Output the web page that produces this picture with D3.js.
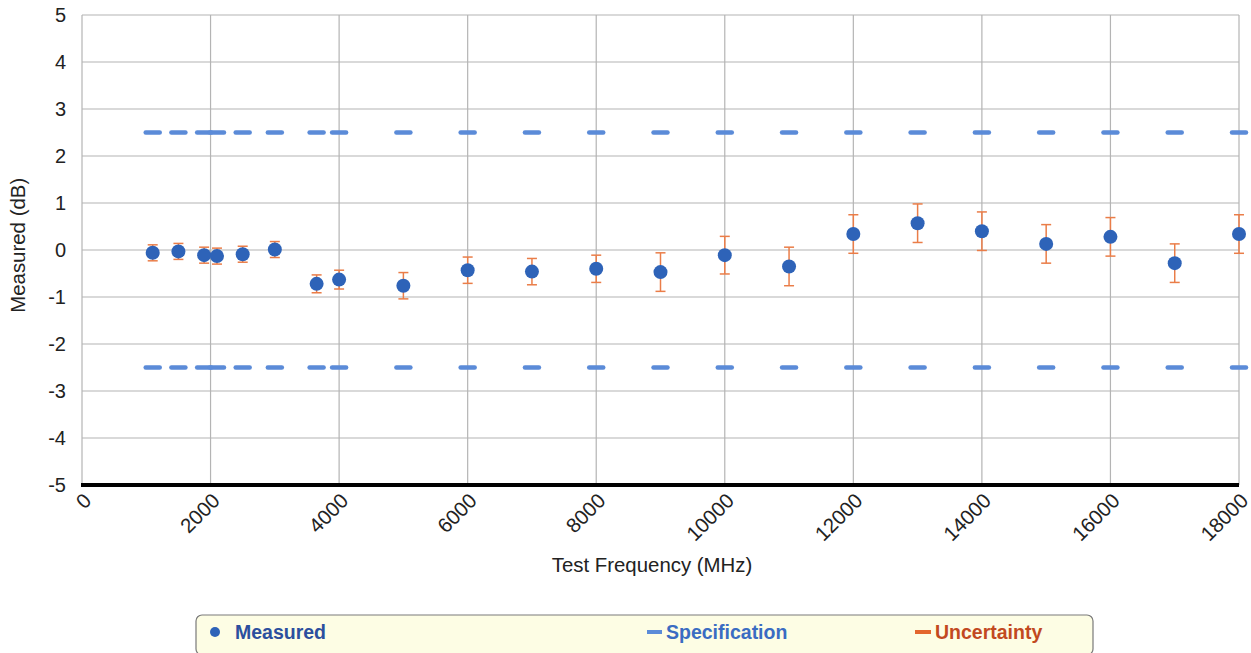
<html>
<head>
<meta charset="utf-8">
<style>
body{margin:0;background:#fff;}
text{font-family:"Liberation Sans",Arial,sans-serif;}
</style>
</head>
<body>
<svg id="graph" width="1251" height="653"></svg>
<script src="https://d3js.org/d3.v7.min.js"></script>
<script>
// test points (MHz), measured deviation (dB), expanded uncertainty (dB)
var freqs = [1100,1500,1900,2100,2500,3000,3650,4000,5000,6000,7000,8000,9000,10000,11000,12000,13000,14000,15000,16000,17000,18000];
var measured = [-0.06,-0.03,-0.11,-0.13,-0.09,0.01,-0.72,-0.63,-0.76,-0.43,-0.46,-0.40,-0.47,-0.11,-0.35,0.34,0.57,0.40,0.13,0.28,-0.28,0.34];
var uncert = [0.17,0.17,0.17,0.17,0.17,0.17,0.19,0.2,0.28,0.28,0.28,0.29,0.41,0.4,0.41,0.41,0.41,0.41,0.41,0.41,0.41,0.41];
var specUpper = 2.5, specLower = -2.5;
var xTicks = [0,2000,4000,6000,8000,10000,12000,14000,16000,18000];
var yTicks = [-5,-4,-3,-2,-1,0,1,2,3,4,5];

var svg = d3.select('#graph');
var pLeft = 82, pRight = 1239, pTop = 15, pBottom = 485;

var x = d3.scaleLinear().domain([0,18000]).range([pLeft,pRight]);
var y = d3.scaleLinear().domain([-5,5]).range([pBottom,pTop]);

// grid
svg.append('g').selectAll('line').data(yTicks).enter().append('line')
	.attr('x1',pLeft).attr('x2',pRight)
	.attr('y1',function(d){return y(d);}).attr('y2',function(d){return y(d);})
	.attr('stroke','#b4b4b4').attr('stroke-width',1.2);
svg.append('g').selectAll('line').data(xTicks).enter().append('line')
	.attr('x1',function(d){return x(d);}).attr('x2',function(d){return x(d);})
	.attr('y1',pTop).attr('y2',pBottom)
	.attr('stroke','#b4b4b4').attr('stroke-width',1.2);

// axes
var yAxis = svg.append('g').attr('transform','translate('+pLeft+',0)')
	.call(d3.axisLeft(y).tickValues(yTicks).tickFormat(function(d){return String(d);}).tickSize(0).tickPadding(16));
yAxis.select('.domain').remove();
yAxis.selectAll('text').style('font-size','20px').style('fill','#222');

var xAxis = svg.append('g').attr('transform','translate(0,'+pBottom+')')
	.call(d3.axisBottom(x).tickValues(xTicks).tickFormat(function(d){return String(d);}).tickSize(0));
xAxis.select('.domain').remove();
xAxis.selectAll('text')
	.style('font-size','20.5px').style('fill','#222')
	.attr('text-anchor','end')
	.attr('dy',0).attr('y',0)
	.attr('transform','translate(10,17) rotate(-45)');

svg.append('line')
	.attr('x1',pLeft-1).attr('x2',pRight)
	.attr('y1',pBottom).attr('y2',pBottom)
	.attr('stroke','#000').attr('stroke-width',4);

// axis titles
svg.append('text')
	.attr('transform','translate(25,'+y(0.1)+') rotate(-90)')
	.attr('text-anchor','middle')
	.attr('textLength',135).attr('lengthAdjust','spacingAndGlyphs')
	.style('font-size','20px').style('fill','#222')
	.text('Measured (dB)');
svg.append('text')
	.attr('x',652).attr('y',572)
	.attr('text-anchor','middle')
	.style('font-size','20.4px').style('fill','#222')
	.text('Test Frequency (MHz)');

// specification markers
var specColor = '#5b8bd8';
[specUpper,specLower].forEach(function(s){
	svg.append('g').selectAll('line').data(freqs).enter().append('line')
		.attr('x1',function(d){return x(d)-7;}).attr('x2',function(d){return x(d)+7;})
		.attr('y1',y(s)).attr('y2',y(s))
		.attr('stroke',specColor).attr('stroke-width',4.5).attr('stroke-linecap','round');
});

// error bars
var errColor = '#ea7d48';
var eb = svg.append('g').selectAll('g').data(freqs).enter().append('g');
eb.append('line')
	.attr('x1',function(d){return x(d);}).attr('x2',function(d){return x(d);})
	.attr('y1',function(d,i){return y(measured[i]+uncert[i]);})
	.attr('y2',function(d,i){return y(measured[i]-uncert[i]);})
	.attr('stroke',errColor).attr('stroke-width',1.5);
[1,-1].forEach(function(sg){
	eb.append('line')
		.attr('x1',function(d){return x(d)-5;}).attr('x2',function(d){return x(d)+5;})
		.attr('y1',function(d,i){return y(measured[i]+sg*uncert[i]);})
		.attr('y2',function(d,i){return y(measured[i]+sg*uncert[i]);})
		.attr('stroke',errColor).attr('stroke-width',1.5);
});

// measured points
svg.append('g').selectAll('circle').data(freqs).enter().append('circle')
	.attr('cx',function(d){return x(d);})
	.attr('cy',function(d,i){return y(measured[i]);})
	.attr('r',7)
	.attr('fill','#2e63b8');

// legend
var lg = svg.append('g');
lg.append('rect')
	.attr('x',196).attr('y',615).attr('width',897).attr('height',40).attr('rx',6)
	.attr('fill','#fdfde4').attr('stroke','#7a7a7a').attr('stroke-width',1.2);
lg.append('circle').attr('cx',215).attr('cy',632).attr('r',5).attr('fill','#2e63b8');
lg.append('text').attr('x',235).attr('y',639)
	.style('font-size','19.5px').style('font-weight','bold').style('fill','#2b4f9e')
	.text('Measured');
lg.append('line').attr('x1',647).attr('x2',662).attr('y1',632).attr('y2',632)
	.attr('stroke',specColor).attr('stroke-width',4);
lg.append('text').attr('x',666).attr('y',639)
	.style('font-size','19.5px').style('font-weight','bold').style('fill','#3a6cc2')
	.text('Specification');
lg.append('line').attr('x1',915).attr('x2',931).attr('y1',632).attr('y2',632)
	.attr('stroke','#e3662d').attr('stroke-width',4);
lg.append('text').attr('x',935).attr('y',639)
	.style('font-size','19.5px').style('font-weight','bold').style('fill','#c2491f')
	.text('Uncertainty');
</script>
</body>
</html>
